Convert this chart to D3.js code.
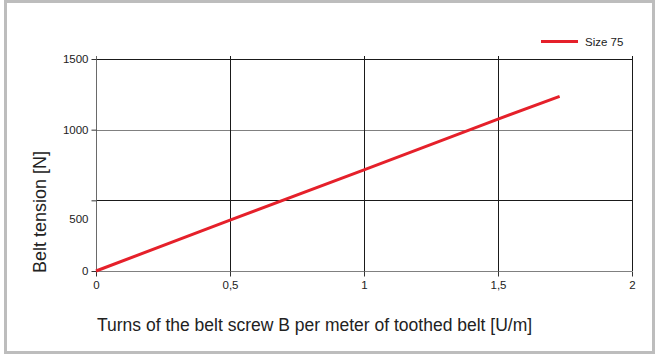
<!DOCTYPE html>
<html>
<head>
<meta charset="utf-8">
<script src="https://cdn.jsdelivr.net/npm/d3@7"></script>
<style>
  body { margin: 0; background: #fff; }
  svg text { font-family: "Liberation Sans Narrow", "Liberation Sans", Arial, sans-serif; fill: #222; }
</style>
</head>
<body>
<div id="container"></div>
<script>
// data
const turns = [0, 0.5, 1, 1.5, 1.73];
const tension = [0, 360, 715, 1075, 1235];
const seriesName = "Size 75";
const xTicks = [0, 0.5, 1, 1.5, 2];
const yTicks = [0, 500, 1000, 1500];

const width = 659;
const height = 355;
const margin = { top: 59, right: 27, bottom: 84, left: 96 };

const svg = d3.select("#container").append("svg")
    .attr("width", width)
    .attr("height", height);

// outer frame
svg.append("rect")
    .attr("x", 5.5).attr("y", 1.5)
    .attr("width", 648).attr("height", 351)
    .attr("fill", "none")
    .attr("stroke", "#bdbdbd")
    .attr("stroke-width", 3);

const x = d3.scaleLinear()
    .domain([0, 2])
    .range([margin.left, width - margin.right]);

const y = d3.scaleLinear()
    .domain([0, 1500])
    .range([height - margin.bottom, margin.top]);

// horizontal gridlines (1000 and 0 come out lighter in the original)
svg.append("g")
    .selectAll("line")
    .data(yTicks)
    .join("line")
    .attr("x1", x(0)).attr("x2", x(2))
    .attr("y1", d => Math.round(y(d)) + 0.5)
    .attr("y2", d => Math.round(y(d)) + 0.5)
    .attr("stroke", d => (d === 1000 || d === 0) ? "#808080" : "#1a1a1a")
    .attr("stroke-width", 1.2);

// vertical gridlines
svg.append("g")
    .selectAll("line")
    .data(xTicks)
    .join("line")
    .attr("x1", d => Math.round(x(d)) + 0.5)
    .attr("x2", d => Math.round(x(d)) + 0.5)
    .attr("y1", y(1500) - 3).attr("y2", y(0))
    .attr("stroke", d => d === 0 ? "#6a6a6a" : "#1a1a1a")
    .attr("stroke-width", 1);

// x axis
const xAxis = svg.append("g")
    .attr("transform", `translate(0,${Math.round(y(0)) + 0.5})`)
    .call(d3.axisBottom(x)
        .tickValues(xTicks)
        .tickSize(5)
        .tickPadding(4)
        .tickFormat(d => String(d).replace(".", ",")));
xAxis.select(".domain").remove();
xAxis.selectAll(".tick line").attr("stroke", "#333");
xAxis.selectAll("text").attr("font-size", 11.5);

// y axis
const yAxis = svg.append("g")
    .attr("transform", `translate(${Math.round(x(0)) + 0.5},0)`)
    .call(d3.axisLeft(y)
        .tickValues(yTicks)
        .tickSize(5)
        .tickPadding(3)
        .tickFormat(d => String(d)));
yAxis.select(".domain").remove();
yAxis.selectAll(".tick line").attr("stroke", "#333");
yAxis.selectAll("text")
    .attr("font-size", 11.5)
    .attr("dy", d => d === 500 ? "1.9em" : "0.32em");

// the series
const line = d3.line()
    .x((d, i) => x(turns[i]))
    .y(d => y(d));

svg.append("path")
    .datum(tension)
    .attr("fill", "none")
    .attr("stroke", "#e5202a")
    .attr("stroke-width", 3)
    .attr("d", line);

// legend
const legend = svg.append("g")
    .attr("transform", "translate(541,41.5)");
legend.append("line")
    .attr("x1", 0).attr("x2", 37)
    .attr("stroke", "#e5202a")
    .attr("stroke-width", 3);
legend.append("text")
    .attr("x", 44)
    .attr("dy", "0.35em")
    .attr("font-size", 11.5)
    .text(seriesName);

// axis titles
svg.append("text")
    .attr("transform", `translate(46,${(y(0) + y(1500)) / 2 + 47}) rotate(-90)`)
    .attr("text-anchor", "middle")
    .attr("font-size", 18)
    .text("Belt tension [N]");

svg.append("text")
    .attr("x", 97)
    .attr("y", 331)
    .attr("font-size", 17.5)
    .text("Turns of the belt screw B per meter of toothed belt [U/m]");
</script>
</body>
</html>
